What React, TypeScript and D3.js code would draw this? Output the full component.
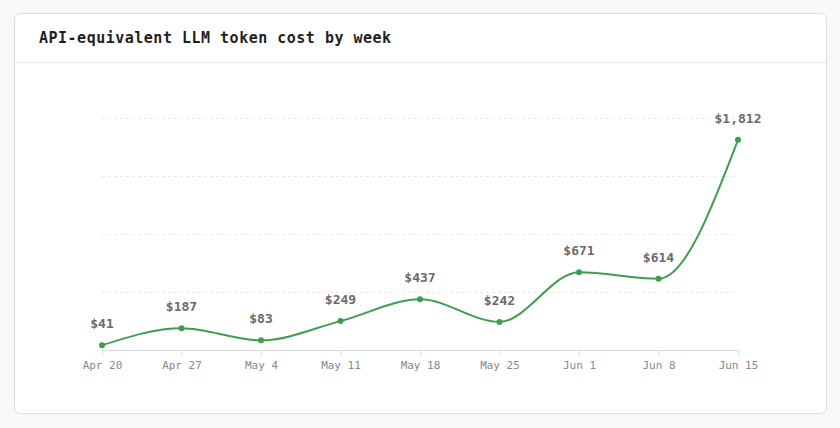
import * as d3 from 'd3'
import { useEffect, useRef } from 'react'

const weeks = ['Apr 20', 'Apr 27', 'May 4', 'May 11', 'May 18', 'May 25', 'Jun 1', 'Jun 8', 'Jun 15']
const costs = [41, 187, 83, 249, 437, 242, 671, 614, 1812]
const gridValues = [500, 1000, 1500, 2000]
const title = 'API-equivalent LLM token cost by week'

const W = 840
const H = 428
const mono = '"DejaVu Sans Mono", "Liberation Mono", monospace'

export default function App() {
  const ref = useRef<SVGSVGElement>(null)

  useEffect(() => {
    const svg = d3.select(ref.current)
    svg.selectAll('*').remove()

    svg.append('rect').attr('width', W).attr('height', H).attr('fill', '#f8f8f8')

    // card
    svg
      .append('rect')
      .attr('x', 14.5)
      .attr('y', 13.5)
      .attr('width', 812)
      .attr('height', 400)
      .attr('rx', 6)
      .attr('fill', '#fff')
      .attr('stroke', '#dcdcdc')

    svg
      .append('line')
      .attr('x1', 15)
      .attr('x2', 826)
      .attr('y1', 62.5)
      .attr('y2', 62.5)
      .attr('stroke', '#e6e6e6')

    svg
      .append('text')
      .attr('x', 39)
      .attr('y', 43)
      .attr('font-family', mono)
      .attr('font-size', 15)
      .attr('font-weight', 600)
      .attr('letter-spacing', 0.5)
      .attr('fill', '#1f1f1f')
      .text(title)

    var x = d3.scalePoint().domain(weeks).range([102, 738])
    var y = d3.scaleLinear().domain([0, 2000]).range([350, 118])

    // gridlines
    svg
      .append('g')
      .selectAll('line')
      .data(gridValues)
      .join('line')
      .attr('x1', 102)
      .attr('x2', 738)
      .attr('y1', (d) => y(d) + 0.5)
      .attr('y2', (d) => y(d) + 0.5)
      .attr('stroke', '#e9e9e9')
      .attr('stroke-dasharray', '3,3')

    // x axis
    var xAxis = svg
      .append('g')
      .attr('transform', 'translate(0,' + y(0) + ')')
      .call(d3.axisBottom(x).tickSize(5).tickPadding(6).tickSizeOuter(0))
    xAxis.select('.domain').attr('stroke', '#dadada').attr('d', 'M102,0.5H738')
    xAxis.selectAll('.tick line').attr('stroke', '#dadada')
    xAxis
      .selectAll('.tick text')
      .attr('font-family', mono)
      .attr('font-size', 11)
      .attr('fill', '#888')

    const data = weeks.map((w, i) => ({ w, v: costs[i] }))

    var line = d3
      .line<{ w: string; v: number }>()
      .x((d) => x(d.w)!)
      .y((d) => y(d.v))
      .curve(d3.curveMonotoneX)

    svg
      .append('path')
      .datum(data)
      .attr('d', line)
      .attr('fill', 'none')
      .attr('stroke', '#3f9d4e')
      .attr('stroke-width', 2)

    svg
      .append('g')
      .selectAll('circle')
      .data(data)
      .join('circle')
      .attr('cx', (d) => x(d.w)!)
      .attr('cy', (d) => y(d.v))
      .attr('r', 3)
      .attr('fill', '#3f9d4e')

    svg
      .append('g')
      .selectAll('text')
      .data(data)
      .join('text')
      .attr('x', (d) => x(d.w)!)
      .attr('y', (d) => y(d.v) - 17)
      .attr('text-anchor', 'middle')
      .attr('font-family', mono)
      .attr('font-size', 13)
      .attr('font-weight', 700)
      .attr('fill', '#6a6a6a')
      .text((d) => '$' + d3.format(',')(d.v))
  }, [])

  return (
    <svg
      ref={ref}
      width={W}
      height={H}
      style={{ position: 'absolute', left: 0, top: 0, display: 'block' }}
    />
  )
}
